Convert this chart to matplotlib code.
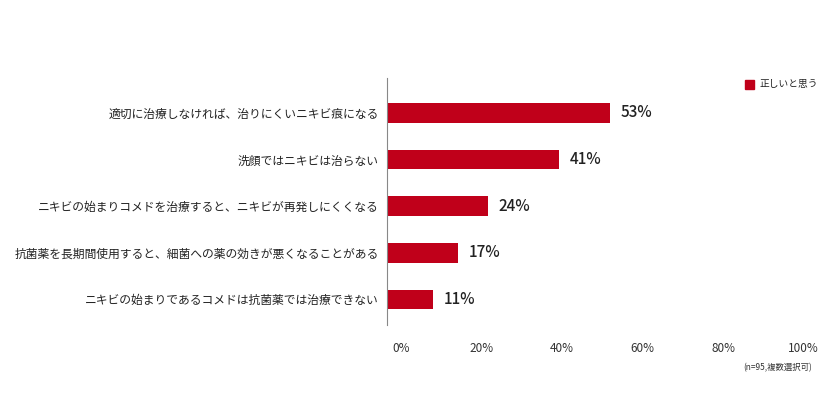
import matplotlib
matplotlib.use("Agg")
import matplotlib.pyplot as plt
from matplotlib.patches import Rectangle
from matplotlib.transforms import ScaledTranslation

plt.rcParams['font.family'] = ['Noto Sans CJK JP', 'DejaVu Sans']

categories = ["適切に治療しなければ、治りにくいニキビ痕になる",
              "洗顔ではニキビは治らない",
              "ニキビの始まりコメドを治療すると、ニキビが再発しにくくなる",
              "抗菌薬を長期間使用すると、細菌への薬の効きが悪くなることがある",
              "ニキビの始まりであるコメドは抗菌薬では治療できない"]
values = [53, 41, 24, 17, 11]
ticks = [0, 20, 40, 60, 80, 100]
tick_labels = ["0%", "20%", "40%", "60%", "80%", "100%"]
color = "#c0001a"

W, H = 818, 400
fig = plt.figure(figsize=(W/100, H/100), dpi=100)
ax = fig.add_axes([387/W, 1-325/H, (807-387)/W, (325-78)/H])
y = list(range(len(categories)))
ax.barh(y, values, height=0.42, color=color)
ax.set_ylim(len(categories)-0.45, -0.75)
ax.set_xlim(0, 100)
ax.set_yticks(y)
ax.set_yticklabels(categories, fontsize=8.5, color="#222222")
ax.set_xticks(ticks)
ax.set_xticklabels(tick_labels, fontsize=8.5, color="#333333")
ax.tick_params(length=0, pad=12)
ax.tick_params(axis='y', pad=6)
labs = ax.get_xticklabels()
for i, lab in enumerate(labs):
    dx = (10 - 2.5 * i) / 72
    lab.set_transform(lab.get_transform() + ScaledTranslation(dx, 0, fig.dpi_scale_trans))
for s in ['top', 'right', 'bottom']:
    ax.spines[s].set_visible(False)
ax.spines['left'].set_color("#888888")
for yi, v in zip(y, values):
    ax.text(v + 2.5, yi, f"{v}%", va='center', ha='left', fontsize=11, color="#222222", fontweight='medium')

fig.patches.append(Rectangle((745/W, 1-89/H), 9/W, 9/H, color=color, transform=fig.transFigure))
fig.text(760/W, 1-84/H, "正しいと思う", fontsize=7, va='center', ha='left', color="#222222")
fig.text(812/W, 1-368/H, "(n=95,複数選択可)", fontsize=6, va='center', ha='right', color="#333333")

fig.savefig("out.png", dpi=100)
